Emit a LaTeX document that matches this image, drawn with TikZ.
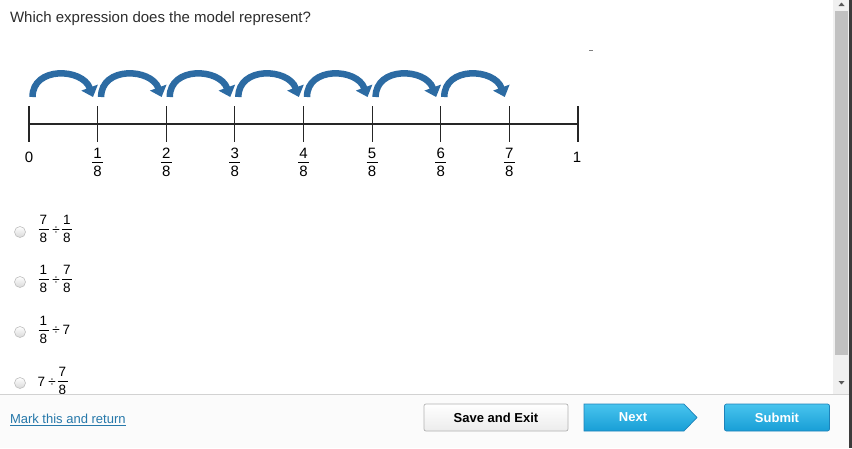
\documentclass[tikz,border=0pt]{standalone}
\usepackage{fontspec}
\setmainfont{Liberation Sans}
\usetikzlibrary{arrows.meta,shapes.geometric,calc}
\definecolor{arrowblue}{RGB}{44,107,163}
\definecolor{titlegray}{RGB}{45,45,45}
\definecolor{linkblue}{RGB}{38,120,170}
\definecolor{btnblueTop}{RGB}{72,196,238}
\definecolor{btnblueBot}{RGB}{24,158,214}
\definecolor{btnblueBorder}{RGB}{30,130,185}
\definecolor{trackgray}{RGB}{240,240,240}
\definecolor{thumbgray}{RGB}{193,193,193}
\definecolor{darkstrip}{RGB}{60,60,60}
\begin{document}
\begin{tikzpicture}[x=1pt,y=-1pt,
  every node/.style={inner sep=0pt, outer sep=0pt},
  numlabel/.style={font=\fontsize{15}{17}\selectfont, text=black},
  optlabel/.style={font=\fontsize{13.5}{15}\selectfont, text=black},
  fracbar/.style={line width=0.9pt, black},
  tickline/.style={line width=1.15pt, black!85},
  jumparrow/.style={line width=6.5pt, arrowblue, -{Triangle[length=10pt,width=17pt]}},
  radio/.style={draw=gray!50, line width=0.6pt, top color=white, bottom color=gray!30},
  bluebtn/.style={draw=btnblueBorder, line width=0.7pt, top color=btnblueTop, bottom color=btnblueBot},
  btntext/.style={font=\bfseries\fontsize{13}{15}\selectfont}
]
\useasboundingbox (0,0) rectangle (852,448);
\fill[white] (0,0) rectangle (852,448);

% title
\node[anchor=west, font=\fontsize{15}{17}\selectfont, text=titlegray] (title) at (10,19) {Which expression does the model represent?};

% small dash
\coordinate (dashA) at (589,50);
\coordinate (dashB) at (593,50);
\draw[gray, line width=0.8pt] (dashA) -- (dashB);

% number line
\foreach \i in {0,...,8} {
  \pgfmathsetmacro{\xx}{29+\i*68.625}
  \coordinate (t\i) at (\xx,124);
  \coordinate (tt\i) at (\xx,106);
  \coordinate (tb\i) at (\xx,142);
  \draw[tickline] (tt\i) -- (tb\i);
}
\draw[tickline] (t0) -- (t8);

% labels
\node[numlabel] (lab0) at (29,157) {0};
\node[numlabel] (lab8) at (577,157) {1};
\foreach \i in {1,...,7} {
  \pgfmathsetmacro{\xx}{29+\i*68.625}
  \node[numlabel] (num\i) at (\xx,153) {\i};
  \node[numlabel] (den\i) at (\xx,171) {8};
  \coordinate (barL\i) at (\xx-5.5,162);
  \coordinate (barR\i) at (\xx+5.5,162);
  \draw[fracbar] (barL\i) -- (barR\i);
}

% jump arrows
\foreach \i in {0,...,6} {
  \pgfmathsetmacro{\xx}{29+\i*68.625}
  \coordinate (as\i) at (\xx+3.5,97);
  \coordinate (ae\i) at (\xx+64,97);
  \draw[jumparrow] (as\i) .. controls ($(as\i)+(0,-31)$) and ($(as\i)+(50,-29)$) .. (ae\i);
}

% options
\node[radio, circle, minimum size=11pt] (r1) at (20,232) {};
\node[radio, circle, minimum size=11pt] (r2) at (20,282) {};
\node[radio, circle, minimum size=11pt] (r3) at (20,332) {};
\node[radio, circle, minimum size=11pt] (r4) at (20,383) {};

% row 1: 7/8 ÷ 1/8
\node[optlabel] (o1a) at (43.5,220) {7};
\draw[fracbar] (38.5,229) -- (48.5,229);
\node[optlabel] (o1b) at (43.5,238) {8};
\node[optlabel] (o1d) at (56,230.5) {÷};
\node[optlabel] (o1c) at (67,220) {1};
\draw[fracbar] (62,229) -- (72,229);
\node[optlabel] (o1e) at (67,238) {8};

% row 2: 1/8 ÷ 7/8
\node[optlabel] (o2a) at (43.5,270) {1};
\draw[fracbar] (38.5,279) -- (48.5,279);
\node[optlabel] (o2b) at (43.5,288) {8};
\node[optlabel] (o2d) at (56,280.5) {÷};
\node[optlabel] (o2c) at (67,270) {7};
\draw[fracbar] (62,279) -- (72,279);
\node[optlabel] (o2e) at (67,288) {8};

% row 3: 1/8 ÷ 7
\node[optlabel] (o3a) at (43.5,321) {1};
\draw[fracbar] (38.5,330) -- (48.5,330);
\node[optlabel] (o3b) at (43.5,339) {8};
\node[optlabel] (o3d) at (56,331) {÷};
\node[optlabel] (o3c) at (66.5,330) {7};

% row 4: 7 ÷ 7/8
\node[optlabel] (o4a) at (41.5,382) {7};
\node[optlabel] (o4d) at (52,382.5) {÷};
\node[optlabel] (o4b) at (62.5,372) {7};
\draw[fracbar] (57.5,381) -- (67.5,381);
\node[optlabel] (o4c) at (62.5,390) {8};

% scrollbar
\fill[trackgray] (833,0) rectangle (849,394);
\fill[thumbgray] (835,11) rectangle (848,355);
\fill[black!65] (838.5,6) -- (844.5,6) -- (841.5,2.5) -- cycle;
\fill[black!65] (838.5,381) -- (844.5,381) -- (841.5,384.5) -- cycle;

% bottom bar
\fill[gray!3] (0,394) rectangle (849,448);
\draw[gray!35, line width=0.8pt] (0,394) -- (849,394);
\fill[darkstrip] (849,0) rectangle (852,448);

% link
\node[anchor=west, font=\fontsize{13}{15}\selectfont, text=linkblue] (link) at (10,420) {\underline{Mark this and return}};

% buttons
\node[draw=gray!60, line width=0.7pt, rounded corners=2pt, top color=white, bottom color=gray!15,
  minimum width=144pt, minimum height=27pt, btntext, text=black] (save) at (496,417.5) {Save and Exit};
\coordinate (n1) at (584,404);
\coordinate (n2) at (684,404);
\coordinate (n3) at (697,417.5);
\coordinate (n4) at (684,431);
\coordinate (n5) at (584,431);
\shade[bluebtn] (n1) -- (n2) -- (n3) -- (n4) -- (n5) -- cycle;
\node[btntext, text=white] (next) at (633,417.5) {Next};
\node[bluebtn, rounded corners=2pt, minimum width=105pt, minimum height=27pt, btntext, text=white] (submit) at (777,417.5) {Submit};
\end{tikzpicture}
\end{document}
